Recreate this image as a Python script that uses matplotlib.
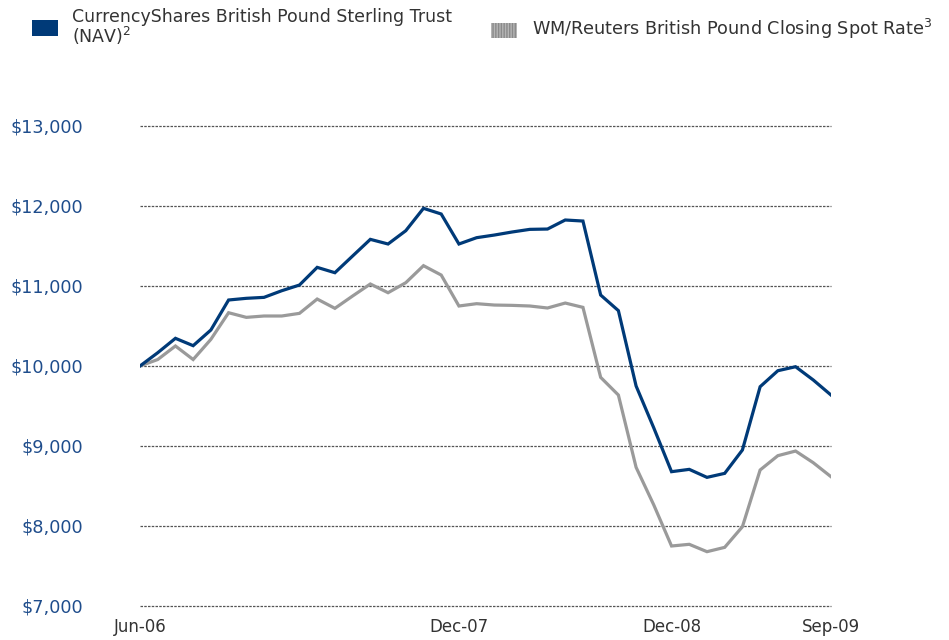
import matplotlib
matplotlib.use("Agg")
import matplotlib.pyplot as plt
from matplotlib.patches import Rectangle

# Monthly values, Jun-06 .. Sep-09 (40 months)
months = list(range(40))
trust_nav = [10000, 10166, 10346, 10254, 10450, 10825, 10846, 10858, 10941, 11012,
             11233, 11166, 11375, 11583, 11525, 11691, 11971, 11900, 11525, 11604,
             11637, 11675, 11708, 11712, 11825, 11812, 10887, 10692, 9750, 9225,
             8679, 8708, 8608, 8658, 8950, 9741, 9941, 9991, 9825, 9637]
spot_rate = [10000, 10081, 10250, 10081, 10333, 10666, 10608, 10625, 10625, 10658,
             10837, 10721, 10875, 11025, 10916, 11041, 11254, 11137, 10750, 10779,
             10762, 10758, 10750, 10725, 10787, 10733, 9858, 9637, 8733, 8262,
             7750, 7771, 7679, 7733, 7991, 8700, 8879, 8937, 8791, 8616]
xtick_pos = [0, 18, 30, 39]
xtick_labels = ["Jun-06", "Dec-07", "Dec-08", "Sep-09"]
yticks = [7000, 8000, 9000, 10000, 11000, 12000, 13000]

blue = "#003a78"
grey = "#9a9a9a"
text_col = "#333333"

plt.rcParams["font.family"] = "DejaVu Sans"
plt.rcParams["mathtext.fontset"] = "dejavusans"

fig = plt.figure(figsize=(9.49, 6.4), dpi=100)
ax = fig.add_axes([140 / 949, 1 - 606 / 640, 691 / 949, 480 / 640])

# gridlines
for v in yticks:
    ax.axhline(v, color="#555555", lw=0.9, linestyle=(0, (2, 1)), zorder=1, clip_on=False)

ax.plot(months, spot_rate, color=grey, lw=2.3, zorder=3, solid_joinstyle="miter")
ax.plot(months, trust_nav, color=blue, lw=2.3, zorder=4, solid_joinstyle="miter")

ax.set_xlim(0, 39)
ax.set_ylim(7000, 13000)
ax.set_yticks(yticks)
ax.set_yticklabels(["${:,}".format(v) for v in yticks], color="#1f4d8c", fontsize=12.7)
ax.set_xticks(xtick_pos)
ax.set_xticklabels(xtick_labels, color=text_col, fontsize=12)
ax.tick_params(axis="y", length=0, pad=41)
ax.tick_params(axis="x", length=0, pad=9)
for s in ax.spines.values():
    s.set_visible(False)

# ---- legend drawn by hand ----
W, H = 949, 640
fig.patches.append(Rectangle((32 / W, 1 - 36 / H), 26 / W, 16 / H, transform=fig.transFigure,
                             facecolor=blue, edgecolor="none"))
fig.text(72 / W, 1 - 8 / H, "CurrencyShares British Pound Sterling Trust\n(NAV)$^2$",
         fontsize=12.5, color=text_col, va="top", linespacing=0.92)

fig.patches.append(Rectangle((491 / W, 1 - 38 / H), 26 / W, 15 / H, transform=fig.transFigure,
                             facecolor="#b5b5b5", edgecolor="#8a8a8a", hatch="||||||", lw=0))
fig.text(532 / W, 1 - 35 / H, "WM/Reuters British Pound Closing Spot Rate$^3$",
         fontsize=12.7, color=text_col, va="baseline")

fig.savefig("out.png", dpi=100)
